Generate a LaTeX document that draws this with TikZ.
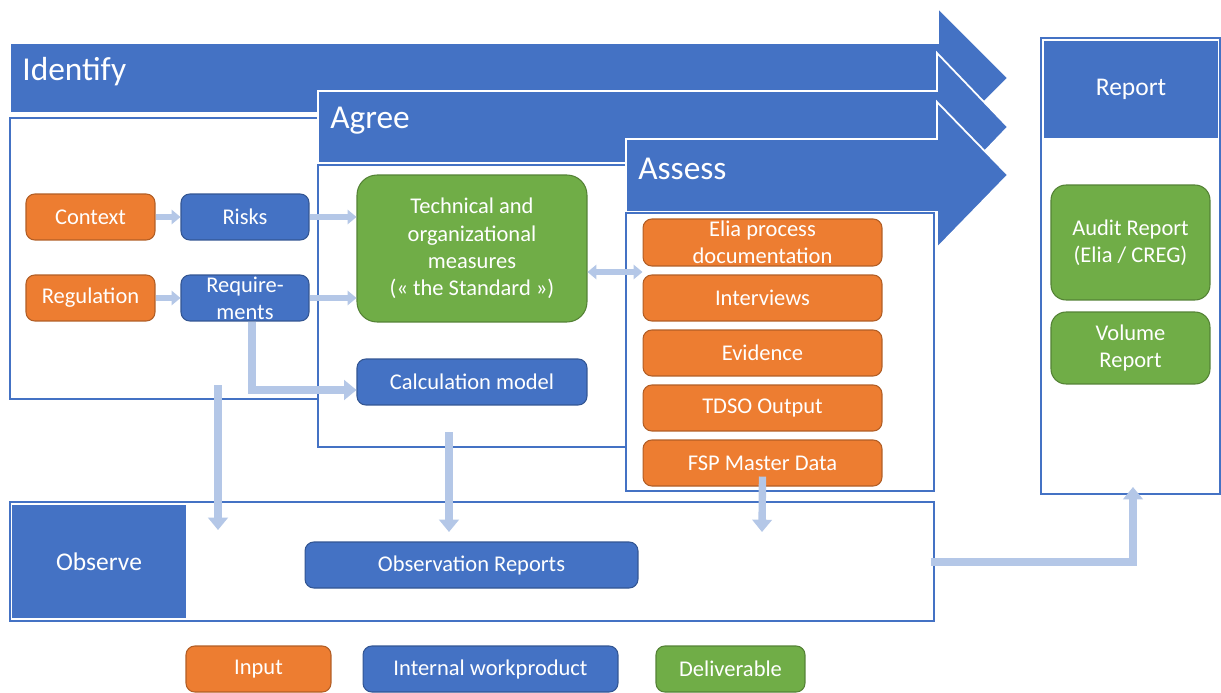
\documentclass[tikz,border=0pt]{standalone}
\usepackage{fontspec}
\setmainfont{Carlito}
\usetikzlibrary{arrows.meta}

\definecolor{phaseblue}{HTML}{4472C4}
\definecolor{inputorange}{HTML}{ED7D31}
\definecolor{delivgreen}{HTML}{70AD47}
\definecolor{flowblue}{HTML}{B4C7E7}

\tikzset{
	item/.style={rounded corners=5pt, text=white, align=center, inner sep=0pt,
		font=\fontsize{12.8}{15.5}\selectfont, line width=0.6pt},
	inp/.style={item, fill=inputorange, draw=inputorange!75!black},
	work/.style={item, fill=phaseblue, draw=phaseblue!75!black},
	deliv/.style={item, fill=delivgreen, draw=delivgreen!75!black},
	phase/.style={fill=phaseblue, draw=white, line width=1pt},
	phaselabel/.style={text=white, anchor=west, inner sep=0pt, font=\fontsize{19}{22}\selectfont},
	frame/.style={fill=white, draw=phaseblue, line width=0.7pt},
	flow/.style={draw=flowblue, line width=4.2pt, -{Triangle[width=11pt,length=7pt]}},
	thinflow/.style={draw=flowblue, line width=3.2pt, -{Triangle[width=8pt,length=5pt]}}
}

\begin{document}
\begin{tikzpicture}[x=0.02cm, y=-0.02cm]
	\useasboundingbox (0,0) rectangle (1221,693);

	% phases
	\path[phase] (10,43) -- (938,43) -- (938,8) -- (1008,78) -- (938,148) -- (938,113) -- (10,113) -- cycle;
	\node[phaselabel] (identify) at (22,72) {Identify};
	\path[frame] (10,118) rectangle (626,399);

	\path[phase] (318,91) -- (937,91) -- (937,53) -- (1008,127) -- (937,201) -- (937,163) -- (318,163) -- cycle;
	\node[phaselabel] (agree) at (330,121) {Agree};
	\path[frame] (318,165) rectangle (934,447);

	\path[phase] (626,139) -- (937,139) -- (937,102) -- (1008,175) -- (937,248) -- (937,212) -- (626,212) -- cycle;
	\node[phaselabel] (assess) at (638,169) {Assess};
	\path[frame] (626,213) rectangle (934,491);

	\path[frame] (10,502) rectangle (934,621);
	\node[fill=phaseblue, text=white, minimum width=3.48cm, minimum height=2.26cm,
		font=\fontsize{14.5}{17}\selectfont] (observe) at (99,561.5) {Observe};

	\path[frame] (1041,38) rectangle (1220,494);
	\node[fill=phaseblue, text=white, minimum width=3.48cm, minimum height=1.94cm,
		font=\fontsize{14.5}{17}\selectfont] (report) at (1131,89.5) {Report};

	% items
	\node[inp, minimum width=2.58cm, minimum height=0.92cm] (context) at (90.5,217) {Context};
	\node[work, minimum width=2.56cm, minimum height=0.92cm] (risks) at (245,217) {Risks};
	\node[inp, minimum width=2.58cm, minimum height=0.92cm] (regulation) at (90.5,298) {Regulation};
	\node[work, minimum width=2.56cm, minimum height=0.92cm] (req) at (245,298) {Require-\\ments};

	\node[deliv, rounded corners=0.4cm, minimum width=4.6cm, minimum height=2.94cm] (standard) at (472,248.5)
		{Technical and\\organizational\\measures\\(« the Standard »)};
	\node[work, minimum width=4.6cm, minimum height=0.92cm] (calc) at (472,382) {Calculation model};

	\node[inp, minimum width=4.78cm, minimum height=0.94cm] (elia) at (762.5,242.5) {Elia process\\documentation};
	\node[inp, minimum width=4.78cm, minimum height=0.92cm] (interviews) at (762.5,298) {Interviews};
	\node[inp, minimum width=4.78cm, minimum height=0.92cm] (evidence) at (762.5,353) {Evidence};
	\node[inp, minimum width=4.78cm, minimum height=0.92cm] (tdso) at (762.5,408) {TDSO Output};
	\node[inp, minimum width=4.78cm, minimum height=0.92cm] (fsp) at (762.5,463) {FSP Master Data};

	\node[work, minimum width=6.66cm, minimum height=0.92cm] (obsrep) at (471.5,565) {Observation Reports};

	\node[deliv, rounded corners=0.3cm, minimum width=3.18cm, minimum height=2.3cm] (audit) at (1130.5,242.5)
		{Audit Report\\(Elia / CREG)};
	\node[deliv, rounded corners=0.3cm, minimum width=3.18cm, minimum height=1.44cm] (volume) at (1130.5,348)
		{Volume\\Report};

	% legend
	\node[inp, minimum width=2.9cm, minimum height=0.92cm] (leginput) at (258.5,669) {Input};
	\node[work, minimum width=5.1cm, minimum height=0.92cm] (legwork) at (490.5,669) {Internal workproduct};
	\node[deliv, minimum width=2.98cm, minimum height=0.92cm] (legdeliv) at (730.5,669) {Deliverable};

	% flows
	\coordinate (idout) at (218,385);
	\coordinate (idin) at (218,530);
	\coordinate (agout) at (449,432);
	\coordinate (agin) at (449,532);
	\coordinate (asin) at (762,532);
	\coordinate (obsout) at (931,562);
	\coordinate (repin) at (1133,487);

	\draw[thinflow] (context) -- (risks);
	\draw[thinflow] (regulation) -- (req);
	\draw[thinflow] (risks.east) -- (risks.east -| standard.west);
	\draw[thinflow] (req.east) -- (req.east -| standard.west);
	\draw[thinflow, {Triangle[width=8pt,length=5pt]}-{Triangle[width=8pt,length=5pt]}]
		([yshift=-0.47cm]standard.east) -- ([yshift=-0.47cm]standard.east -| elia.west);
	\draw[flow] ([xshift=0.14cm]req.south) |- ([yshift=-0.16cm]calc.west);

	\draw[flow] (idout) -- (idin);
	\draw[flow] (agout) -- (agin);
	\draw[flow] ([yshift=0.2cm]fsp.south) -- (asin);
	\draw[flow] (obsout) -| (repin);

\end{tikzpicture}
\end{document}
